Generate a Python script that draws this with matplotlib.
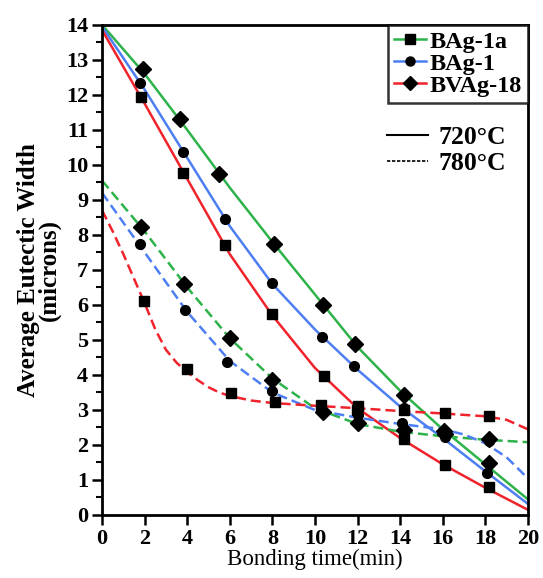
import matplotlib
matplotlib.use("Agg")
from matplotlib import pyplot as plt
from matplotlib.lines import Line2D
from matplotlib.ticker import MultipleLocator

plt.rcParams['font.family'] = ['Liberation Serif', 'DejaVu Serif']

green = '#2db34a'
blue = '#4d7ef2'
red = '#f0222b'

# fitted curves
line_x = [0, 2, 4, 6, 8, 10, 12, 14, 16, 18, 20]
green_720_line = [14.0, 12.6, 11.0, 9.35, 7.8, 6.3, 4.8, 3.55, 2.45, 1.45, 0.45]
blue_720_line = [13.95, 12.15, 10.2, 8.25, 6.6, 5.3, 4.15, 3.1, 2.2, 1.25, 0.32]
red_720_line = [13.85, 11.75, 9.6, 7.45, 5.7, 4.2, 3.05, 2.2, 1.45, 0.78, 0.15]
green_780_line = [9.55, 8.1, 6.5, 5.05, 3.9, 3.05, 2.6, 2.38, 2.25, 2.15, 2.08]

blue_780_x = [0, 2, 4, 6, 8, 10, 12, 14, 16, 17, 18, 19, 20]
blue_780_line = [9.2, 7.5, 5.8, 4.4, 3.5, 3.0, 2.78, 2.6, 2.45, 2.3, 2.05, 1.65, 1.05]

red_780_x = [0, 0.5, 1, 1.5, 2, 2.5, 3, 3.5, 4, 4.5, 5, 5.5, 6, 7, 8, 10, 12, 14,
             16, 18, 19, 20]
red_780_line = [8.7, 8.1, 7.45, 6.75, 6.05, 5.3, 4.72, 4.35, 4.08, 3.85, 3.65, 3.5,
                3.4, 3.27, 3.2, 3.12, 3.05, 2.97, 2.9, 2.82, 2.72, 2.45]

# measured points
green_720_x = [1.9, 3.66, 5.5, 8.1, 10.4, 11.9, 14.2, 16.05, 18.2]
green_720_y = [12.73, 11.3, 9.74, 7.75, 6.0, 4.89, 3.43, 2.4, 1.48]
blue_720_x = [1.8, 3.8, 5.77, 8.0, 10.35, 11.85, 14.18, 16.1, 18.1]
blue_720_y = [12.35, 10.36, 8.45, 6.62, 5.08, 4.25, 3.05, 2.22, 1.19]
red_720_x = [1.83, 3.8, 5.77, 8.0, 10.42, 11.97, 14.18, 16.1, 18.17]
red_720_y = [11.93, 9.78, 7.71, 5.74, 3.97, 3.0, 2.16, 1.43, 0.79]

green_780_px = [1.82, 3.86, 6.0, 8.0, 10.4, 12.0, 14.2, 16.1, 18.2]
green_780_py = [8.24, 6.6, 5.05, 3.86, 2.95, 2.62, 2.43, 2.3, 2.16]
blue_780_px = [1.8, 3.9, 5.85, 8.0, 10.3, 12.0, 14.1, 16.1, 18.2]
blue_780_py = [7.74, 5.85, 4.36, 3.55, 3.0, 2.85, 2.62, 2.38, 2.1]
red_780_px = [1.99, 4.0, 6.04, 8.12, 10.3, 12.0, 14.2, 16.1, 18.2]
red_780_py = [6.1, 4.16, 3.49, 3.24, 3.15, 3.12, 3.0, 2.9, 2.83]

fig = plt.figure(figsize=(5.43, 5.78), dpi=100)
ax = fig.add_axes([0.188, 0.109, 0.784, 0.848])

lw = 1.8
dash = (0, (4, 2))
ax.plot(line_x, green_720_line, color=green, lw=lw)
ax.plot(line_x, blue_720_line, color=blue, lw=lw)
ax.plot(line_x, red_720_line, color=red, lw=lw)
ax.plot(line_x, green_780_line, color=green, lw=lw, linestyle=dash)
ax.plot(blue_780_x, blue_780_line, color=blue, lw=lw, linestyle=dash)
ax.plot(red_780_x, red_780_line, color=red, lw=lw, linestyle=dash)

mk = dict(color='black', linestyle='none', zorder=3)
ax.plot(green_720_x, green_720_y, marker='D', ms=8.5, **mk)
ax.plot(blue_720_x, blue_720_y, marker='o', ms=7, **mk)
ax.plot(red_720_x, red_720_y, marker='s', ms=7, **mk)
ax.plot(green_780_px, green_780_py, marker='D', ms=8.5, **mk)
ax.plot(blue_780_px, blue_780_py, marker='o', ms=7, **mk)
ax.plot(red_780_px, red_780_py, marker='s', ms=7, **mk)

ax.set_xlim(0, 20)
ax.set_ylim(0, 14)
ax.xaxis.set_major_locator(MultipleLocator(2))
ax.yaxis.set_major_locator(MultipleLocator(1))
ax.yaxis.set_minor_locator(MultipleLocator(0.5))
ax.tick_params(axis='both', which='major', direction='out', length=7, width=1.8,
               labelsize=16, pad=3)
ax.tick_params(axis='y', which='minor', direction='out', length=4, width=1.5)
for lab in ax.get_xticklabels() + ax.get_yticklabels():
    lab.set_fontweight('bold')
for sp in ax.spines.values():
    sp.set_linewidth(2)

ax.set_xlabel('Bonding time(min)', fontsize=16.5, labelpad=0)
ax.set_ylabel('Average Eutectic Width\n(microns)', fontsize=18, fontweight='bold',
              labelpad=4, linespacing=0.85)

handles = [
    Line2D([], [], color=green, lw=lw, marker='s', ms=6.5, mfc='black', mec='black'),
    Line2D([], [], color=blue, lw=lw, marker='o', ms=6.5, mfc='black', mec='black'),
    Line2D([], [], color=red, lw=lw, marker='D', ms=7.5, mfc='black', mec='black'),
]
leg1 = ax.legend(handles, ['BAg-1a', 'BAg-1', 'BVAg-18'], loc='upper right',
                 borderaxespad=0, fancybox=False, handlelength=1.3,
                 handletextpad=0.15, labelspacing=0.0, borderpad=0.25,
                 prop={'weight': 'bold', 'size': 17.5})
leg1.get_frame().set_edgecolor('black')
leg1.get_frame().set_linewidth(1.8)
ax.add_artist(leg1)

temp_handles = [
    Line2D([], [], color='black', lw=1.5),
    Line2D([], [], color='black', lw=1.2, linestyle=(0, (2, 1))),
]
ax.legend(temp_handles, ['720°C', '780°C'], loc='upper right',
          bbox_to_anchor=(0.99, 0.83), frameon=False, handlelength=1.6,
          handletextpad=0.4, labelspacing=0.1, borderpad=0.2,
          prop={'weight': 'bold', 'size': 18.5})

fig.savefig('out.png', dpi=100)
